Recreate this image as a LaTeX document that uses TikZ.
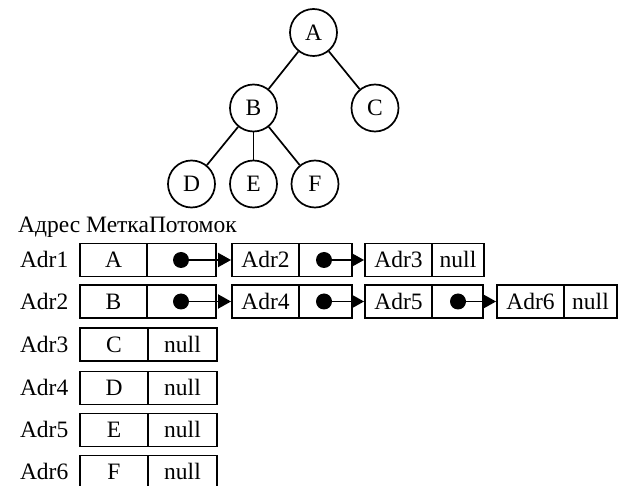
\documentclass[tikz,border=0pt]{standalone}
\usepackage{fontspec}
\setmainfont{Liberation Serif}
\usetikzlibrary{arrows.meta}
\begin{document}
\begin{tikzpicture}[x=1pt,y=-1pt,
  font=\fontsize{23.5}{28}\selectfont,
  vertex/.style={draw, circle, line width=1.7pt, minimum size=47pt, inner sep=0pt},
  edge/.style={line width=1.7pt},
  cell/.style={draw, line width=1.9pt, minimum height=33pt, inner sep=0pt,
    text height=18pt, text depth=2pt},
  dotmark/.style={circle, fill, inner sep=0pt, minimum size=16pt},
  ptr/.style={line width=1.9pt, -{Triangle[length=13pt,width=14pt]}},
  rowlabel/.style={anchor=east, inner sep=0pt, text height=18pt, text depth=2pt}]
\useasboundingbox (0,0) rectangle (622,486);

% tree
\node[vertex] (A) at (313.5,32.5) {A};
\node[vertex] (B) at (253.5,108) {B};
\node[vertex] (C) at (375,108) {C};
\node[vertex] (D) at (191.5,184) {D};
\node[vertex] (E) at (253.5,184) {E};
\node[vertex] (F) at (315,184) {F};
\draw[edge] (A) -- (B);
\draw[edge] (A) -- (C);
\draw[edge] (B) -- (D);
\draw[edge] (B) -- (E);
\draw[edge] (B) -- (F);

% header
\node[anchor=base west, inner sep=0pt] (hdr) at (18,233) {Адрес МеткаПотомок};

% row labels
\node[rowlabel] (l1) at (68.5,260) {Adr1};
\node[rowlabel] (l2) at (68.5,301.5) {Adr2};
\node[rowlabel] (l3) at (68.5,344.5) {Adr3};
\node[rowlabel] (l4) at (68.5,388) {Adr4};
\node[rowlabel] (l5) at (68.5,430) {Adr5};
\node[rowlabel] (l6) at (68.5,472) {Adr6};

% row 1
\node[cell, minimum width=67pt] (a1) at (113.5,260) {A};
\node[cell, minimum width=69pt] (a1p) at (181.5,260) {};
\node[cell, minimum width=67pt] (a2) at (265.5,260) {Adr2};
\node[cell, minimum width=53pt] (a2p) at (325.5,260) {};
\node[cell, minimum width=67pt] (a3) at (398.5,260) {Adr3};
\node[cell, minimum width=52pt] (a3n) at (458,260) {null};
\node[dotmark] (ad1) at (181,260) {};
\node[dotmark] (ad2) at (324,260) {};
\draw[ptr] (ad1.center) -- (a2.west);
\draw[ptr] (ad2.center) -- (a3.west);

% row 2
\node[cell, minimum width=67pt] (b1) at (113.5,301.5) {B};
\node[cell, minimum width=69pt] (b1p) at (181.5,301.5) {};
\node[cell, minimum width=67pt] (b2) at (265.5,301.5) {Adr4};
\node[cell, minimum width=53pt] (b2p) at (325.5,301.5) {};
\node[cell, minimum width=67pt] (b3) at (398.5,301.5) {Adr5};
\node[cell, minimum width=51pt] (b3p) at (457.5,301.5) {};
\node[cell, minimum width=67pt] (b4) at (530.5,301.5) {Adr6};
\node[cell, minimum width=53pt] (b4n) at (590.5,301.5) {null};
\node[dotmark] (bd1) at (181,301.5) {};
\node[dotmark] (bd2) at (324,301.5) {};
\node[dotmark] (bd3) at (458,301.5) {};
\draw[ptr] (bd1.center) -- (b2.west);
\draw[ptr] (bd2.center) -- (b3.west);
\draw[ptr] (bd3.center) -- (b4.west);

% rows 3-6
\node[cell, minimum width=68pt] (c1) at (114,344.5) {C};
\node[cell, minimum width=69pt] (c1n) at (182.5,344.5) {null};
\node[cell, minimum width=68pt] (d1) at (114,388) {D};
\node[cell, minimum width=69pt] (d1n) at (182.5,388) {null};
\node[cell, minimum width=68pt] (e1) at (114,430) {E};
\node[cell, minimum width=69pt] (e1n) at (182.5,430) {null};
\node[cell, minimum width=68pt] (f1) at (114,472) {F};
\node[cell, minimum width=69pt] (f1n) at (182.5,472) {null};
\end{tikzpicture}
\end{document}
